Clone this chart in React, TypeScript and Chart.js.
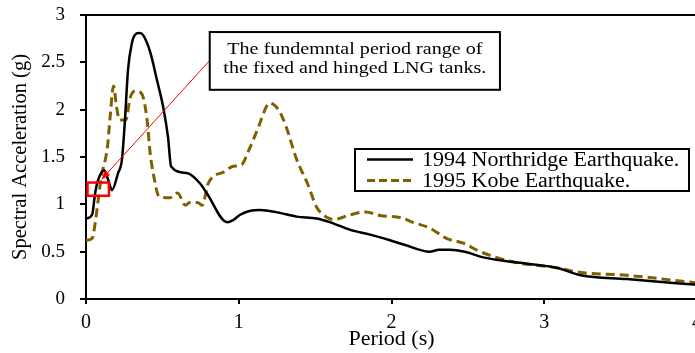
import React, { useEffect, useRef } from "react";
import { Chart, registerables } from "chart.js";

Chart.register(...registerables);

// Response spectra, period (s) vs spectral acceleration (g)
const northridgePeriod = [
  0.0, 0.04, 0.06, 0.08, 0.12, 0.145, 0.17, 0.21, 0.235, 0.255, 0.275, 0.3, 0.32, 0.347, 0.373,
  0.42, 0.465, 0.505, 0.537, 0.557, 0.66, 0.747, 0.79, 0.925, 0.96, 1.01, 1.07, 1.14, 1.2, 1.27,
  1.38, 1.51, 1.6, 1.73, 1.86, 1.99, 2.09, 2.25, 2.31, 2.38, 2.48, 2.6, 2.8, 3.08, 3.24, 3.54, 4.0,
];
const northridgeSa = [
  0.85, 0.89, 1.12, 1.26, 1.36, 1.26, 1.15, 1.33, 1.47, 1.89, 2.42, 2.7, 2.79, 2.81, 2.79,
  2.61, 2.31, 2.03, 1.71, 1.4, 1.33, 1.22, 1.12, 0.81, 0.83, 0.89, 0.93, 0.94, 0.93, 0.91,
  0.87, 0.85, 0.81, 0.73, 0.68, 0.62, 0.57, 0.5, 0.52, 0.52, 0.5, 0.44, 0.39, 0.33, 0.25, 0.21, 0.15,
];

const kobePeriod = [
  0.0, 0.04, 0.06, 0.08, 0.1, 0.14, 0.16, 0.18, 0.2, 0.22, 0.26, 0.29, 0.33, 0.37, 0.4, 0.42,
  0.44, 0.48, 0.55, 0.6, 0.65, 0.68, 0.73, 0.76, 0.8, 0.83, 0.9, 0.96, 1.02, 1.06, 1.13, 1.18,
  1.2, 1.26, 1.31, 1.38, 1.45, 1.51, 1.58, 1.62, 1.73, 1.83, 1.93, 2.06, 2.14, 2.25, 2.36, 2.47,
  2.58, 2.8, 3.08, 3.24, 3.54, 4.0,
];
const kobeSa = [
  0.62, 0.64, 0.8, 1.05, 1.29, 1.6, 1.96, 2.25, 2.03, 1.89, 1.89, 2.13, 2.2, 2.15, 1.89, 1.54,
  1.33, 1.08, 1.07, 1.12, 0.99, 1.02, 1.02, 0.99, 1.22, 1.29, 1.34, 1.4, 1.42, 1.55, 1.82, 2.03,
  2.07, 2.0, 1.82, 1.47, 1.22, 0.97, 0.86, 0.84, 0.89, 0.92, 0.88, 0.86, 0.81, 0.75, 0.64, 0.59,
  0.5, 0.39, 0.33, 0.28, 0.25, 0.17,
];

const seriesLabels = ["1994 Northridge Earthquake.", "1995 Kobe Earthquake."];
const noteLines = ["The fundemntal period range of", "the fixed and hinged LNG tanks."];

// Highlighted fundamental-period window of the tanks (period s, Sa g)
const rangePeriod = [0.01, 0.15];
const rangeSa = [1.09, 1.23];
// Note box extent and arrow, in data units
const notePeriod = [0.81, 2.71];
const noteSa = [2.21, 2.82];
const arrowFrom = [0.81, 2.52];
const arrowTo = [0.1, 1.26];

const KOBE_COLOR = "#7F6000";
const SERIF = '"Liberation Serif", "Times New Roman", serif';

const toPoints = (xs: number[], ys: number[]) => xs.map((x, i) => ({ x, y: ys[i] }));

const overlayPlugin = {
  id: "overlay",
  afterDatasetsDraw(chart: any) {
    const { ctx, chartArea, scales } = chart;
    const xs = scales.x;
    const ys = scales.y;
    ctx.save();

    // frame: top and right edges
    ctx.strokeStyle = "#000";
    ctx.lineWidth = 2;
    ctx.beginPath();
    ctx.moveTo(chartArea.left, chartArea.top);
    ctx.lineTo(chartArea.right, chartArea.top);
    ctx.lineTo(chartArea.right, chartArea.bottom);
    ctx.stroke();

    // period window rectangle
    const rx0 = xs.getPixelForValue(rangePeriod[0]);
    const rx1 = xs.getPixelForValue(rangePeriod[1]);
    const ry0 = ys.getPixelForValue(rangeSa[1]);
    const ry1 = ys.getPixelForValue(rangeSa[0]);
    ctx.strokeStyle = "#ff0000";
    ctx.lineWidth = 2.5;
    ctx.strokeRect(rx0, ry0, rx1 - rx0, ry1 - ry0);

    // arrow from note to window
    const ax0 = xs.getPixelForValue(arrowFrom[0]);
    const ay0 = ys.getPixelForValue(arrowFrom[1]);
    const ax1 = xs.getPixelForValue(arrowTo[0]);
    const ay1 = ys.getPixelForValue(arrowTo[1]);
    const ang = Math.atan2(ay1 - ay0, ax1 - ax0);
    const head = 10;
    ctx.lineWidth = 1;
    ctx.beginPath();
    ctx.moveTo(ax0, ay0);
    ctx.lineTo(ax1 - Math.cos(ang) * head * 0.8, ay1 - Math.sin(ang) * head * 0.8);
    ctx.stroke();
    ctx.fillStyle = "#ff0000";
    ctx.beginPath();
    ctx.moveTo(ax1, ay1);
    ctx.lineTo(ax1 - head * Math.cos(ang - 0.35), ay1 - head * Math.sin(ang - 0.35));
    ctx.lineTo(ax1 - head * Math.cos(ang + 0.35), ay1 - head * Math.sin(ang + 0.35));
    ctx.closePath();
    ctx.fill();

    // note box
    const nx0 = xs.getPixelForValue(notePeriod[0]);
    const nx1 = xs.getPixelForValue(notePeriod[1]);
    const ny0 = ys.getPixelForValue(noteSa[1]);
    const ny1 = ys.getPixelForValue(noteSa[0]);
    ctx.fillStyle = "#fff";
    ctx.fillRect(nx0, ny0, nx1 - nx0, ny1 - ny0);
    ctx.strokeStyle = "#000";
    ctx.lineWidth = 2;
    ctx.strokeRect(nx0, ny0, nx1 - nx0, ny1 - ny0);
    ctx.fillStyle = "#000";
    ctx.font = `17px ${SERIF}`;
    ctx.textBaseline = "middle";
    ctx.textAlign = "center";
    const cx = (nx0 + nx1) / 2;
    noteLines.forEach((line, i) => {
      ctx.save();
      ctx.translate(cx, ny0 + 17 + i * 19);
      ctx.scale(1.18, 1);
      ctx.fillText(line, 0, 0);
      ctx.restore();
    });

    // legend
    const lx = 355;
    const ly = 149;
    const lw = 334;
    const lh = 42;
    ctx.fillStyle = "#fff";
    ctx.fillRect(lx, ly, lw, lh);
    ctx.strokeStyle = "#000";
    ctx.lineWidth = 2;
    ctx.strokeRect(lx, ly, lw, lh);
    const rows = [
      { color: "#000", dash: [] as number[], width: 2.5 },
      { color: KOBE_COLOR, dash: [8, 4], width: 3 },
    ];
    rows.forEach((row, i) => {
      const y = ly + 10.5 + i * 21;
      ctx.strokeStyle = row.color;
      ctx.lineWidth = row.width;
      ctx.setLineDash(row.dash);
      ctx.beginPath();
      ctx.moveTo(lx + 12, y);
      ctx.lineTo(lx + 58, y);
      ctx.stroke();
      ctx.setLineDash([]);
      ctx.fillStyle = "#000";
      ctx.font = `20px ${SERIF}`;
      ctx.textAlign = "left";
      ctx.save();
      ctx.translate(lx + 67, y + 1);
      ctx.scale(1.1, 1);
      ctx.fillText(seriesLabels[i], 0, 0);
      ctx.restore();
    });

    ctx.restore();
  },
};

export default function App() {
  const canvasRef = useRef<HTMLCanvasElement | null>(null);

  useEffect(() => {
    if (!canvasRef.current) return;
    const chart = new Chart(canvasRef.current, {
      type: "line",
      data: {
        datasets: [
          {
            label: seriesLabels[0],
            data: toPoints(northridgePeriod, northridgeSa),
            borderColor: "#000",
            borderWidth: 2.5,
            pointRadius: 0,
            cubicInterpolationMode: "monotone",
            fill: false,
          },
          {
            label: seriesLabels[1],
            data: toPoints(kobePeriod, kobeSa),
            borderColor: KOBE_COLOR,
            borderWidth: 3,
            borderDash: [9, 5],
            pointRadius: 0,
            cubicInterpolationMode: "monotone",
            fill: false,
          },
        ],
      },
      options: {
        responsive: false,
        animation: false,
        devicePixelRatio: 1,
        layout: { padding: { left: 8, top: 15, right: 13, bottom: 0 } },
        plugins: {
          legend: { display: false },
          tooltip: { enabled: false },
        },
        scales: {
          x: {
            type: "linear",
            min: 0,
            max: 4,
            afterFit: (scale: any) => {
              scale.height = 54;
              scale.paddingLeft = 0;
              scale.paddingRight = 0;
            },
            ticks: {
              stepSize: 1,
              padding: 7,
              color: "#000",
              font: { family: SERIF, size: 20 },
              callback: (v: any) => `${+v}`,
            },
            grid: {
              drawOnChartArea: false,
              drawTicks: true,
              tickLength: 5,
              color: "#000",
              lineWidth: 2,
            },
            border: { display: true, color: "#000", width: 2 },
            title: {
              display: true,
              text: "Period (s)",
              color: "#000",
              font: { family: SERIF, size: 22 },
              padding: { top: 0, bottom: 1 },
            },
          },
          y: {
            min: 0,
            max: 3,
            afterFit: (scale: any) => {
              scale.width = 78;
              scale.paddingTop = 0;
              scale.paddingBottom = 0;
            },
            ticks: {
              stepSize: 0.5,
              padding: 15,
              color: "#000",
              font: { family: SERIF, size: 19 },
              callback: (v: any) => `${+v}`,
            },
            grid: {
              drawOnChartArea: false,
              drawTicks: true,
              tickLength: 6,
              color: "#000",
              lineWidth: 2,
            },
            border: { display: true, color: "#000", width: 2 },
            title: {
              display: true,
              text: "Spectral Acceleration (g)",
              color: "#000",
              font: { family: SERIF, size: 20.5 },
              padding: { top: 0, bottom: 0 },
            },
          },
        },
      },
      plugins: [overlayPlugin],
    });
    return () => chart.destroy();
  }, []);

  return (
    <div
      style={{
        position: "fixed",
        left: 0,
        top: 0,
        width: 695,
        height: 353,
        overflow: "hidden",
        background: "#fff",
      }}
    >
      <canvas ref={canvasRef} width={710} height={353} style={{ display: "block" }} />
    </div>
  );
}
